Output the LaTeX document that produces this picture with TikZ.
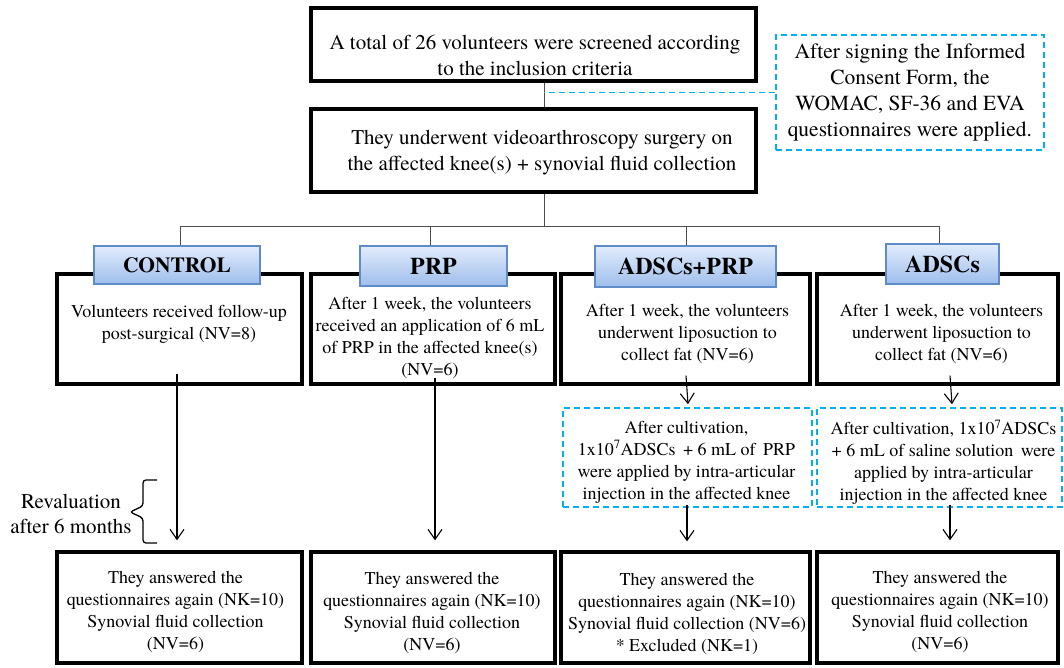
\documentclass[tikz,border=0pt]{standalone}
\usepackage{fontspec}
\setmainfont{texgyretermes}[Extension=.otf,UprightFont=*-regular,BoldFont=*-bold,ItalicFont=*-italic,BoldItalicFont=*-bolditalic]
\usetikzlibrary{arrows.meta}
\definecolor{hdrtop}{RGB}{226,236,252}
\definecolor{hdrbot}{RGB}{158,190,236}
\definecolor{hdrborder}{RGB}{95,140,200}
\definecolor{cyanc}{RGB}{0,176,240}
\tikzset{
  thickbox/.style={draw=black, line width=3.4pt, inner sep=0pt, rectangle},
  hdr/.style={draw=hdrborder, line width=1.3pt, top color=hdrtop, bottom color=hdrbot, inner sep=0pt, rectangle, font=\fontsize{24}{28}\selectfont\bfseries},
  cyanbox/.style={draw=cyanc, line width=1.6pt, dash pattern=on 6pt off 4pt, inner sep=0pt, rectangle},
  cyanline/.style={draw=cyanc, line width=1.6pt, dash pattern=on 6pt off 4pt},
  bodytxt/.style={align=center, inner sep=0pt, font=\fontsize{18}{22}\selectfont},
  bigtxt/.style={align=center, inner sep=0pt, font=\fontsize{21}{26}\selectfont},
  tree/.style={draw=black!70, line width=0.9pt},
  arr/.style={draw=black, line width=1.1pt, -{Straight Barb[length=10pt,width=14pt,line width=1.1pt]}},
}
\begin{document}
\begin{tikzpicture}[x=1pt,y=-1pt]
\useasboundingbox (0,0) rectangle (1064,667);
% top boxes
\node[thickbox, minimum width=445, minimum height=73] (t1) at (533.5,44.5) {};
\node[bigtxt] (t1txt) at (535,55) {A total of 26 volunteers were screened according\\to the inclusion criteria};
\node[thickbox, minimum width=445, minimum height=83] (t2) at (533.5,150.5) {};
\node[bigtxt] (t2txt) at (542,153) {They underwent videoarthroscopy surgery on\\the affected knee(s) + synovial fluid collection};
\node[cyanbox, minimum width=268, minimum height=115, align=center, font=\fontsize{21.5}{26}\selectfont] (note) at (910,92.5) {After signing the Informed\\Consent Form, the\\WOMAC, SF-36 and EVA\\questionnaires were applied.};
% connectors top
\coordinate (tc) at ([xshift=10.5pt]t1.south);
\draw[tree] (tc) -- (tc |- t2.north);
\draw[cyanline] (note.west) -- (note.west -| tc);
\coordinate (bus) at (544,226);
\draw[tree] (tc |- t2.south) -- (bus);
% main boxes
\node[thickbox, minimum width=245, minimum height=110] (c1) at (179.5,329) {};
\node[thickbox, minimum width=244, minimum height=110] (c2) at (433,329) {};
\node[thickbox, minimum width=249, minimum height=110] (c3) at (685.5,329) {};
\node[thickbox, minimum width=241, minimum height=110] (c4) at (937.5,329) {};
% headers
\node[hdr, minimum width=166, minimum height=38, font=\fontsize{21.5}{26}\selectfont\bfseries] (h1) at (177,265) {CONTROL};
\node[hdr, minimum width=147, minimum height=40] (h2) at (433.5,266) {PRP};
\node[hdr, minimum width=181, minimum height=41] (h3) at (685.5,266.5) {ADSCs+PRP};
\node[hdr, minimum width=113, minimum height=40] (h4) at (942.5,264) {ADSCs};
% tree to headers
\draw[tree] ([xshift=3pt]h1.north) |- ([xshift=-3.5pt]h4.north |- bus) -- ([xshift=-3.5pt]h4.north);
\draw[tree] ([xshift=-3.5pt]h2.north) -- ([xshift=-3.5pt]h2.north |- bus);
\draw[tree] ([xshift=0.5pt]h3.north) -- ([xshift=0.5pt]h3.north |- bus);
% main texts
\node[bodytxt] (c1txt) at (179,324.5) {Volunteers received follow-up\\post-surgical (NV=8)};
\node[bodytxt] (c2txt) at (430,338) {After 1 week, the volunteers\\received an application of 6 mL\\of PRP in the affected knee(s)\\(NV=6)};
\node[bodytxt] (c3txt) at (687.5,334) {After 1 week, the volunteers\\underwent liposuction to\\collect fat (NV=6)};
\node[bodytxt] (c4txt) at (941.5,334) {After 1 week, the volunteers\\underwent liposuction to\\collect fat (NV=6)};
% dashed boxes
\node[cyanbox, minimum width=249, minimum height=99] (d3) at (687.5,457.5) {};
\node[cyanbox, minimum width=245, minimum height=99] (d4) at (939.5,457.5) {};
\node[bodytxt] (d3txt) at (686.5,462) {After cultivation,\\1x10\textsuperscript{7}ADSCs \,+ 6 mL of \,PRP\\were applied by intra-articular\\injection in the affected knee};
\node[bodytxt] (d4txt) at (943.5,462) {After cultivation, 1x10\textsuperscript{7}ADSCs\\+ 6 mL of saline solution \,were\\applied by intra-articular\\injection in the affected knee};
% bottom boxes
\node[thickbox, minimum width=245, minimum height=111] (b1) at (179.5,607.5) {};
\node[thickbox, minimum width=244, minimum height=111] (b2) at (433,607.5) {};
\node[thickbox, minimum width=249, minimum height=111] (b3) at (685.5,607.5) {};
\node[thickbox, minimum width=241, minimum height=111] (b4) at (937.5,607.5) {};
\node[bodytxt] (b1txt) at (175.5,612) {They answered the\\questionnaires again (NK=10)\\Synovial fluid collection\\(NV=6)};
\node[bodytxt] (b2txt) at (432,613) {They answered the\\questionnaires again (NK=10)\\Synovial fluid collection\\(NV=6)};
\node[bodytxt] (b3txt) at (687,614) {They answered the\\questionnaires again (NK=10)\\Synovial fluid collection (NV=6)\\* Excluded (NK=1)};
\node[bodytxt] (b4txt) at (940,612) {They answered the\\questionnaires again (NK=10)\\Synovial fluid collection\\(NV=6)};
% arrows
\draw[arr] ([xshift=-2.5pt,yshift=12pt]c1.south) -- ([xshift=-2.5pt,yshift=10pt]b1.north);
\draw[arr] ([xshift=2pt,yshift=8pt]c2.south) -- ([xshift=2pt,yshift=10pt]b2.north);
\draw[arr] ([xshift=0.5pt,yshift=10pt]c3.south) -- ([xshift=0.5pt,yshift=3pt]d3.north);
\draw[arr] ([xshift=12.5pt,yshift=10pt]c4.south) -- ([xshift=12.5pt,yshift=3pt]d4.north);
\draw[arr] ([xshift=-0.5pt,yshift=3pt]d3.south) -- ([xshift=1.5pt,yshift=9pt]b3.north);
\draw[arr] ([xshift=10.5pt,yshift=3pt]d4.south) -- ([xshift=12.5pt,yshift=10pt]b4.north);
% revaluation brace
\node[align=center, inner sep=0pt, font=\fontsize{21}{25}\selectfont] (reval) at (71,514) {Revaluation\\after 6 months};
\draw[line width=1.3pt, rounded corners=3pt] (157,480) -- (143,480) -- (143,506) -- (130,512) -- (143,518) -- (143,543) -- (157,543);
\end{tikzpicture}
\end{document}
